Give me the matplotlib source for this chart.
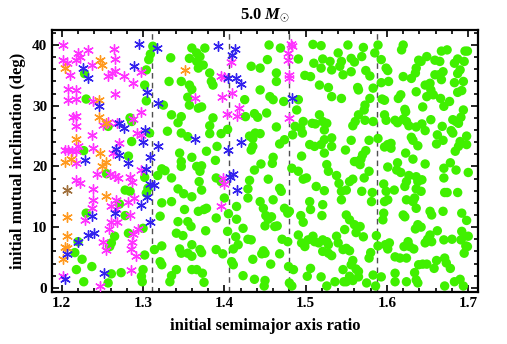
import numpy as np
import matplotlib
matplotlib.use("Agg")
import matplotlib.pyplot as plt
from matplotlib.ticker import MultipleLocator

plt.rcParams['font.family'] = ['Liberation Serif', 'DejaVu Serif']
plt.rcParams['font.weight'] = 'bold'
plt.rcParams['mathtext.fontset'] = 'custom'
plt.rcParams['mathtext.it'] = 'Liberation Serif:italic:bold'
plt.rcParams['mathtext.rm'] = 'Liberation Serif:bold'

# resonance locations (semimajor axis ratios)
resonances = [1.3104, 1.4057, 1.4797, 1.5874]

green_pts = [
    (1.230,31.1),(1.228,35.3),(1.312,39.8),(1.309,38.5),(1.307,37.6),(1.304,35.9),(1.302,33.4),(1.304,30.8),
    (1.334,37.9),(1.332,34.0),(1.347,34.0),(1.357,33.4),(1.360,32.7),(1.360,39.5),(1.366,38.7),(1.357,37.8),
    (1.366,37.3),(1.355,31.4),
    (1.376,39.5),(1.370,38.1),(1.374,36.7),(1.368,36.2),(1.382,35.4),(1.384,34.0),(1.386,33.4),(1.425,31.0),
    (1.433,36.5),(1.444,36.2),(1.453,37.6),(1.455,40.0),(1.469,39.5),(1.464,35.4),(1.464,34.0),(1.456,31.5),
    (1.460,31.0),(1.491,37.7),(1.491,31.0),(1.509,40.1),(1.519,39.9),(1.499,35.0),(1.506,34.8),(1.510,37.0),
    (1.521,37.7),(1.519,36.2),(1.530,37.3),(1.532,35.9),(1.540,38.7),(1.544,37.3),(1.542,36.5),(1.546,35.1),
    (1.552,40.0),(1.517,33.4),(1.528,33.0),(1.532,31.5),(1.544,31.2),(1.444,32.6),
    (1.571,39.6),(1.589,40.0),(1.585,38.7),(1.556,37.8),(1.560,37.2),(1.569,38.1),(1.593,37.6),(1.599,36.2),
    (1.601,35.8),(1.556,35.6),(1.574,35.8),(1.579,34.9),(1.564,33.0),(1.565,32.6),(1.583,32.9),(1.593,33.8),
    (1.602,34.0),(1.579,31.2),(1.594,31.1),(1.597,30.9),(1.620,40.0),(1.618,39.2),(1.620,34.8),(1.630,34.5),
    (1.636,36.2),(1.635,35.4),(1.639,37.5),(1.642,37.3),(1.649,38.1),(1.647,33.4),(1.653,33.7),(1.654,32.6),
    (1.657,31.8),(1.636,32.3),(1.649,31.5),(1.614,31.2),(1.617,31.8),(1.659,37.5),(1.665,37.3),(1.667,39.0),
    (1.674,39.2),(1.683,37.0),(1.687,37.7),(1.696,39.0),(1.699,39.0),(1.695,37.3),(1.690,35.9),(1.687,35.3),
    (1.664,35.1),(1.669,35.6),(1.667,34.3),(1.659,35.1),(1.683,33.8),(1.694,34.0),(1.687,32.2),(1.692,32.5),
    (1.666,31.2),(1.677,30.7),
    (1.257,26.6),(1.284,28.0),(1.286,27.4),(1.308,25.5),(1.286,24.1),(1.227,22.6),(1.282,21.7),
    (1.325,30.1),(1.335,28.5),(1.347,28.2),(1.343,27.2),(1.357,30.1),(1.368,29.6),(1.330,25.8),(1.347,25.5),
    (1.355,24.9),(1.345,22.2),(1.347,20.8),(1.360,21.5),(1.347,20.0),(1.366,20.0),(1.323,19.6),(1.327,19.3),
    (1.318,18.5),(1.335,18.1),(1.343,16.3),(1.350,15.5),(1.360,15.0),(1.284,15.9),(1.278,16.1),(1.255,18.8),
    (1.302,18.2),(1.306,16.4),(1.304,15.6),
    (1.230,12.3),(1.271,13.8),(1.278,11.9),(1.265,8.5),(1.261,7.4),(1.259,6.8),(1.282,9.0),(1.300,9.8),
    (1.220,7.6),(1.216,5.8),(1.225,4.7),(1.237,3.5),(1.218,3.0),(1.227,1.0),(1.261,2.3),(1.273,2.5),
    (1.302,5.4),(1.300,3.0),(1.298,1.9),(1.299,1.0),(1.314,6.3),(1.323,6.9),(1.321,4.3),(1.323,3.8),
    (1.321,11.8),(1.335,14.2),(1.343,10.9),(1.355,10.9),(1.359,10.1),(1.341,9.0),(1.349,8.6),(1.345,6.4),
    (1.347,5.7),(1.355,5.7),(1.360,5.2),(1.335,2.0),(1.341,3.0),(1.360,3.0),(1.366,3.0),(1.360,7.1),
    (1.351,12.9),(1.323,14.0),(1.257,0.8),(1.333,1.0),
    (1.372,29.8),(1.386,28.0),(1.382,26.7),(1.382,25.4),(1.396,25.4),(1.404,26.1),(1.426,28.2),(1.437,28.7),
    (1.441,28.1),(1.452,28.8),(1.464,26.5),(1.431,25.0),(1.435,24.6),(1.444,25.4),(1.438,25.5),(1.468,23.7),
    (1.474,24.4),(1.378,22.5),(1.391,23.3),(1.389,21.0),(1.370,19.2),(1.372,20.1),(1.369,17.5),(1.372,16.1),
    (1.390,18.1),(1.396,17.5),(1.435,23.3),(1.433,22.7),(1.437,19.4),(1.445,20.4),(1.460,21.5),(1.459,20.5),
    (1.454,17.9),(1.431,17.7),(1.429,16.3),(1.468,16.4),(1.470,15.9),(1.460,14.5),(1.444,14.2),(1.429,14.8),
    (1.400,14.8),(1.483,19.7),(1.491,19.2),(1.495,21.7),(1.497,17.9),(1.501,18.1),(1.484,25.2),(1.487,26.6),
    (1.494,26.3),(1.497,27.4),(1.496,25.5),(1.489,29.3),(1.473,30.7),(1.508,27.1),(1.512,27.0),(1.517,28.5),
    (1.521,27.4),(1.526,27.1),(1.523,26.0),(1.505,23.6),(1.511,23.3),(1.519,23.6),(1.523,24.4),(1.532,24.7),
    (1.532,23.3),(1.523,22.2),(1.526,20.3),(1.528,19.2),(1.538,18.5),(1.541,17.2),(1.513,16.7),(1.523,16.0),
    (1.505,14.2),(1.544,15.9),(1.549,22.7),(1.544,14.5),
    (1.573,30.1),(1.572,29.3),(1.565,28.5),(1.561,27.4),(1.558,26.7),(1.573,27.6),(1.583,27.4),(1.597,28.5),
    (1.599,27.6),(1.610,27.6),(1.613,27.2),(1.620,27.8),(1.624,27.4),(1.627,26.7),(1.622,29.4),(1.623,29.0),
    (1.636,26.5),(1.643,27.0),(1.647,25.9),(1.654,27.7),(1.644,29.8),(1.670,29.9),(1.668,26.6),(1.681,27.7),
    (1.685,27.4),(1.691,28.1),(1.694,29.3),(1.688,27.1),(1.679,25.9),(1.681,25.5),(1.698,25.0),(1.662,25.2),
    (1.669,24.3),(1.661,23.7),(1.690,24.1),(1.688,23.3),(1.684,22.5),(1.698,23.6),(1.630,24.8),(1.632,24.3),
    (1.638,23.4),(1.601,23.6),(1.605,23.8),(1.605,23.0),(1.597,23.2),(1.623,22.2),(1.632,21.2),(1.647,20.4),
    (1.613,20.6),(1.612,19.4),(1.617,19.0),(1.601,19.9),(1.578,24.3),(1.589,24.6),(1.556,24.3),(1.574,22.6),
    (1.570,21.9),(1.568,21.2),(1.562,20.8),(1.567,20.3),(1.560,20.8),(1.578,19.2),(1.558,17.9),(1.554,17.5),
    (1.572,18.1),(1.550,16.1),(1.569,15.9),(1.582,15.7),(1.581,14.2),(1.596,17.1),(1.599,15.9),(1.609,16.1),
    (1.624,17.5),(1.622,16.7),(1.627,18.5),(1.636,18.3),(1.638,17.5),(1.643,17.8),(1.636,16.3),(1.642,15.9),
    (1.624,14.5),(1.634,14.8),(1.632,14.2),(1.670,19.7),(1.678,20.6),(1.670,18.1),(1.685,19.4),(1.700,19.0),
    (1.671,15.7),(1.674,15.7),(1.687,15.7),(1.597,14.2),(1.601,14.5),
    (1.368,12.6),(1.375,12.9),(1.378,13.1),(1.390,11.5),(1.405,12.2),(1.415,11.3),(1.415,13.4),(1.377,9.4),
    (1.404,9.3),(1.423,9.8),(1.414,8.4),(1.417,7.1),(1.411,6.4),(1.429,8.0),(1.433,7.9),(1.370,6.3),
    (1.372,5.8),(1.390,6.3),(1.398,5.6),(1.409,4.3),(1.411,3.8),(1.435,4.7),(1.448,6.1),(1.450,5.7),
    (1.446,5.6),(1.457,3.9),(1.468,5.6),(1.373,2.4),(1.375,0.9),(1.423,2.0),(1.437,1.4),(1.450,1.2),
    (1.449,0.3),(1.448,13.1),(1.451,11.9),(1.454,11.3),(1.458,11.7),(1.465,10.2),(1.462,10.1),(1.450,10.2),
    (1.474,13.1),(1.480,12.6),(1.478,12.3),(1.471,8.0),(1.478,7.6),(1.479,3.5),(1.485,3.0),(1.480,0.8),
    (1.483,0.3),(1.491,8.7),(1.494,11.9),(1.497,10.8),(1.506,12.9),(1.521,13.7),(1.520,11.9),(1.495,7.4),
    (1.499,6.8),(1.503,7.9),(1.509,8.5),(1.511,7.6),(1.516,7.4),(1.521,7.9),(1.526,7.6),(1.528,7.1),
    (1.521,6.0),(1.528,5.7),(1.532,5.3),(1.538,8.5),(1.540,7.4),(1.546,6.3),(1.506,3.2),(1.502,1.9),
    (1.519,1.8),(1.526,0.3),(1.536,1.0),(1.547,1.0),(1.546,3.0),
    (1.596,12.3),(1.595,11.2),(1.620,12.0),(1.622,11.7),(1.636,13.1),(1.653,12.6),(1.655,12.0),(1.669,12.6),
    (1.692,12.3),(1.698,11.1),(1.550,12.0),(1.554,11.2),(1.560,10.4),(1.567,10.1),(1.548,9.6),(1.562,9.1),
    (1.571,8.4),(1.550,6.5),(1.554,6.1),(1.587,8.6),(1.589,6.9),(1.580,5.8),(1.578,4.9),(1.558,4.5),
    (1.556,3.8),(1.562,3.1),(1.565,2.7),(1.554,1.9),(1.565,1.8),(1.550,1.0),(1.558,1.2),(1.575,0.8),
    (1.583,2.1),(1.593,1.8),(1.586,0.3),(1.598,7.1),(1.603,7.4),(1.601,6.4),(1.610,5.1),(1.616,4.9),
    (1.624,4.9),(1.621,6.8),(1.626,7.6),(1.628,6.8),(1.633,6.4),(1.635,9.7),(1.638,10.4),(1.642,10.0),
    (1.647,7.4),(1.650,8.0),(1.653,8.7),(1.655,7.6),(1.662,9.4),(1.670,7.9),(1.680,8.0),(1.661,4.5),
    (1.671,4.9),(1.673,4.1),(1.678,3.2),(1.658,3.2),(1.644,3.9),(1.639,3.8),(1.649,3.9),(1.610,2.4),
    (1.610,1.0),(1.624,1.0),(1.634,2.5),(1.636,1.3),(1.638,0.8),(1.671,0.3),(1.683,1.0),(1.690,1.4),
    (1.694,0.3),(1.692,9.3),(1.695,8.5),(1.700,8.5),(1.697,6.9),(1.699,6.8),(1.691,7.9),(1.695,5.7),
]

magenta_pts = [
    (1.202,40.0),(1.220,38.7),(1.223,38.1),(1.218,37.6),(1.232,39.1),(1.202,37.6),(1.206,37.0),(1.210,35.1),
    (1.237,36.7),(1.266,37.7),(1.264,39.3),(1.257,34.9),(1.262,35.4),(1.266,35.8),(1.277,34.9),(1.298,35.6),
    (1.288,33.8),(1.208,32.7),(1.218,32.6),(1.208,31.0),(1.218,31.1),(1.238,30.7),(1.266,32.0),(1.364,31.2),
    (1.396,34.9),(1.400,34.7),(1.408,37.2),(1.397,31.5),(1.409,32.1),(1.482,40.1),(1.483,39.8),(1.478,38.7),
    (1.478,37.5),(1.480,35.1),(1.479,34.5),
    (1.214,28.2),(1.218,28.3),(1.218,26.7),(1.237,25.2),(1.251,26.9),(1.257,27.4),(1.268,27.2),(1.288,27.8),
    (1.297,29.0),(1.292,25.5),(1.298,25.2),(1.271,23.9),(1.220,23.4),(1.204,22.7),(1.208,22.7),(1.212,22.6),
    (1.218,22.5),(1.239,23.0),(1.263,22.2),(1.218,20.5),(1.243,18.8),(1.259,18.8),(1.265,18.5),(1.269,18.1),
    (1.284,18.2),(1.286,17.5),(1.298,19.4),(1.218,17.8),(1.222,17.2),(1.239,16.3),(1.239,14.4),(1.267,14.5),
    (1.289,14.8),(1.281,14.2),
    (1.237,13.1),(1.261,13.4),(1.267,13.0),(1.284,12.0),(1.229,11.1),(1.261,10.8),(1.268,10.9),(1.258,9.7),
    (1.288,8.9),(1.294,9.7),(1.251,7.6),(1.286,7.6),(1.255,6.3),(1.285,6.4),(1.291,5.2),(1.285,2.9),
    (1.202,2.0),(1.247,0.3),
    (1.403,28.7),(1.416,28.3),(1.418,29.6),(1.479,28.0),(1.398,18.1),(1.400,17.1),(1.396,13.4),
]

blue_pts = [
    (1.226,36.2),(1.232,34.5),(1.289,36.6),(1.295,40.1),(1.317,39.5),(1.305,32.3),(1.318,30.5),(1.392,39.8),
    (1.413,39.3),(1.409,38.4),(1.405,34.5),(1.414,34.5),(1.421,33.6),(1.483,31.2),(1.246,29.9),(1.271,27.2),
    (1.277,26.3),(1.302,26.0),(1.300,24.1),(1.267,22.8),(1.270,21.9),(1.318,23.3),(1.228,21.0),(1.308,21.5),
    (1.282,20.5),(1.304,19.6),(1.309,17.1),(1.314,17.0),(1.305,14.9),(1.364,24.6),(1.237,11.8),(1.266,12.3),
    (1.298,13.7),(1.308,10.9),(1.232,8.7),(1.240,9.1),(1.220,7.6),(1.207,5.6),(1.252,2.5),(1.204,1.4),
    (1.420,24.0),(1.405,22.7),(1.411,18.8),(1.407,18.2),(1.415,16.1),
]

orange_pts = [
    (1.204,36.2),(1.247,37.6),(1.250,36.7),(1.246,31.0),(1.351,35.9),(1.246,28.1),(1.254,27.1),(1.217,24.6),
    (1.247,22.2),(1.204,20.8),(1.211,21.2),(1.254,20.8),(1.250,20.0),(1.254,15.1),(1.207,11.6),(1.206,8.6),
    (1.204,6.8),(1.207,6.5),(1.202,4.7),
]

brown_pts = [(1.206,16.1)]

fig = plt.figure(figsize=(5.07, 3.44), dpi=100)
ax = fig.add_axes([0.1026, 0.151, 0.8402, 0.7622])

gx, gy = zip(*green_pts)
ax.scatter(gx, gy, s=46, c='#40f000', edgecolors='none', zorder=2)

star = (6, 2, 0)
for pts, col in [(magenta_pts, '#ff33ff'), (orange_pts, '#ff9a20'),
                 (blue_pts, '#3322ee'), (brown_pts, '#a0703c')]:
    sx, sy = zip(*pts)
    ax.scatter(sx, sy, s=48, marker=star, c=col, linewidths=1.0, zorder=3)

for r in resonances:
    ax.axvline(r, color='#505050', lw=1.0, dashes=(4, 3), zorder=1)

ax.set_xlim(1.188, 1.712)
ax.set_ylim(-0.7, 42.5)
ax.xaxis.set_major_locator(MultipleLocator(0.1))
ax.xaxis.set_minor_locator(MultipleLocator(0.02))
ax.yaxis.set_major_locator(MultipleLocator(10))
ax.yaxis.set_minor_locator(MultipleLocator(2))
ax.tick_params(which='both', direction='in', top=True, right=True, width=1.2, labelsize=11)
ax.tick_params(which='major', length=5)
ax.tick_params(which='minor', length=3)
for s in ax.spines.values():
    s.set_linewidth(1.6)

ax.set_xlabel('initial semimajor axis ratio', fontsize=12, fontweight='bold', labelpad=6)
ax.set_ylabel('initial mutual inclination (deg)', fontsize=12, fontweight='bold', labelpad=4)
ax.set_title(r'5.0 $M_{\odot}$', fontsize=12, fontweight='bold', pad=8)

plt.savefig('out.png', dpi=100)
